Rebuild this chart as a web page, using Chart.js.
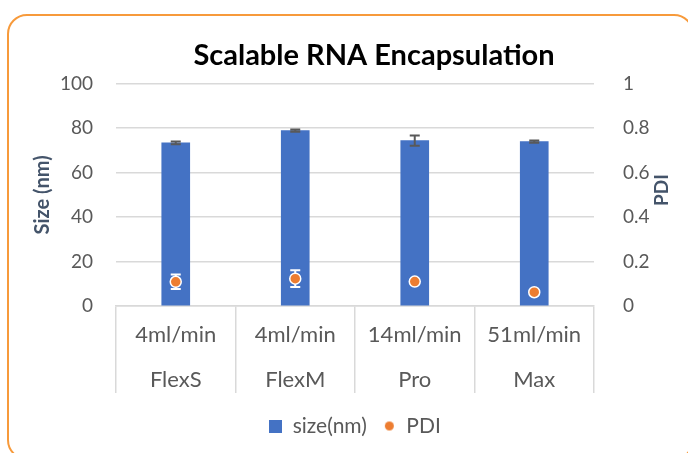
<!DOCTYPE html>
<html>
<head>
<meta charset="utf-8">
<title>Scalable RNA Encapsulation</title>
<script src="https://cdn.jsdelivr.net/npm/chart.js@4.4.1/dist/chart.umd.min.js"></script>
<style>
  body { margin: 0; background: #fff; overflow: hidden; }
  #wrap { position: relative; width: 688px; height: 453px; overflow: hidden; }
  #frame {
    position: absolute; left: 7px; top: 14px; width: 683px; height: 442px;
    border: 2px solid #f79a3b; border-radius: 20px; pointer-events: none;
  }
</style>
</head>
<body>
<div id="wrap">
  <canvas id="chart" width="688" height="453"></canvas>
  <div id="frame"></div>
</div>
<script>
// values
const machines = ['FlexS', 'FlexM', 'Pro', 'Max'];
const flowRates = ['4ml/min', '4ml/min', '14ml/min', '51ml/min'];
const sizeNm = [73.4, 78.9, 74.4, 74.0];
const sizeErr = [0.6, 0.5, 2.3, 0.5];
const pdi = [0.109, 0.123, 0.110, 0.062];
const pdiErr = [0.033, 0.038, 0.008, 0.008];
const sizeTicks = [0, 20, 40, 60, 80, 100];
const pdiTicks = [0, 0.2, 0.4, 0.6, 0.8, 1];

const BLUE = '#4472c4';
const ORANGE = '#ed7d31';
const TICK = '#595959';
const AXIS_TITLE = '#44546a';
const GRID = '#d9d9d9';
const FONT = 'Lato';

// legend markers: square is bigger than the dot, like in the picture
function marker(size, draw) {
    const c = document.createElement('canvas');
    c.width = size;
    c.height = size;
    draw(c.getContext('2d'), size);
    return c;
}
const squareMark = marker(13, (g, s) => { g.fillStyle = BLUE; g.fillRect(0, 0, s, s); });
const dotMark = marker(13, (g, s) => {
    g.fillStyle = ORANGE;
    g.beginPath();
    g.arc(s / 2, s / 2, 4.5, 0, Math.PI * 2);
    g.fill();
});
const legendMarks = [squareMark, dotMark];

function drawErrors(chart, dsIndex, vals, errs, axisId, color) {
    const ctx = chart.ctx;
    const meta = chart.getDatasetMeta(dsIndex);
    const scale = chart.scales[axisId];
    ctx.save();
    ctx.strokeStyle = color;
    ctx.lineWidth = 2;
    meta.data.forEach((el, i) => {
        const x = el.x;
        const top = scale.getPixelForValue(vals[i] + errs[i]);
        const bot = scale.getPixelForValue(vals[i] - errs[i]);
        ctx.beginPath();
        ctx.moveTo(x, top);
        ctx.lineTo(x, bot);
        ctx.moveTo(x - 5, top);
        ctx.lineTo(x + 5, top);
        ctx.moveTo(x - 5, bot);
        ctx.lineTo(x + 5, bot);
        ctx.stroke();
    });
    ctx.restore();
}

const errorBars = {
    id: 'errorBars',
    afterDatasetDraw(chart, args) {
        // bars are drawn first, then the error bars, then the PDI dots on top
        if (args.index !== 0) return;
        drawErrors(chart, 0, sizeNm, sizeErr, 'y', TICK);
        drawErrors(chart, 1, pdi, pdiErr, 'y2', '#ffffff');
    }
};

const extras = {
    id: 'extras',
    afterLayout(chart) {
        // title sits a bit right of centre in the original
        chart.titleBlock.left += 19;
        chart.titleBlock.right += 19;
    },
    afterDraw(chart) {
        // right axis title reads bottom to top
        const ctx = chart.ctx;
        ctx.save();
        ctx.translate(662, 190);
        ctx.rotate(-Math.PI / 2);
        ctx.font = 'bold 19px ' + FONT;
        ctx.fillStyle = AXIS_TITLE;
        ctx.textAlign = 'center';
        ctx.textBaseline = 'middle';
        ctx.fillText('PDI', 0, 0);
        ctx.restore();
    }
};

const ctx = document.getElementById('chart').getContext('2d');
const chart = new Chart(ctx, {
    type: 'bar',
    data: {
        labels: machines.map((m, i) => [flowRates[i], m]),
        datasets: [{
            label: 'size(nm)',
            data: sizeNm,
            backgroundColor: BLUE,
            barThickness: 28,
            yAxisID: 'y',
            order: 2
        }, {
            type: 'line',
            label: 'PDI',
            data: pdi,
            showLine: false,
            pointRadius: 5.5,
            pointBackgroundColor: ORANGE,
            pointBorderColor: '#ffffff',
            pointBorderWidth: 1.5,
            backgroundColor: ORANGE,
            yAxisID: 'y2',
            order: 1
        }]
    },
    options: {
        responsive: false,
        animation: false,
        devicePixelRatio: 1,
        layout: { padding: { left: 27, right: 5, top: 38, bottom: 6.5 } },
        plugins: {
            title: {
                display: true,
                text: 'Scalable RNA Encapsulation',
                color: '#000000',
                font: { family: FONT, size: 29, weight: 'bold' },
                padding: { top: 0, bottom: 11 }
            },
            legend: {
                position: 'bottom',
                labels: {
                    usePointStyle: true,
                    boxWidth: 13,
                    boxHeight: 13,
                    padding: 16,
                    color: TICK,
                    font: { family: FONT, size: 21 },
                    sort: (a, b) => a.datasetIndex - b.datasetIndex,
                    generateLabels(chart) {
                        const items = Chart.defaults.plugins.legend.labels.generateLabels(chart);
                        items.forEach(item => { item.pointStyle = legendMarks[item.datasetIndex]; });
                        return items;
                    }
                }
            },
            tooltip: { enabled: false }
        },
        scales: {
            x: {
                grid: {
                    offset: true,
                    drawOnChartArea: false,
                    tickLength: 87,
                    color: GRID,
                    lineWidth: 1.5
                },
                border: { color: GRID, width: 1.5 },
                ticks: {
                    color: TICK,
                    padding: -80.5,
                    font: { family: FONT, size: 22, lineHeight: 2.05 }
                },
                afterFit(scale) { scale.height = 93.5; }
            },
            y: {
                position: 'left',
                min: 0,
                max: 100,
                afterBuildTicks(scale) { scale.ticks = sizeTicks.map(v => ({ value: v })); },
                grid: { color: GRID, lineWidth: 1.5, drawTicks: false },
                border: { display: false },
                ticks: { color: TICK, padding: 23, font: { family: FONT, size: 19 } },
                title: {
                    display: true,
                    text: 'Size (nm)',
                    color: AXIS_TITLE,
                    font: { family: FONT, size: 20, weight: 'bold' },
                    padding: { top: 4, bottom: 4 }
                },
                afterFit(scale) { scale.width = 116 - 27; }
            },
            y2: {
                position: 'right',
                min: 0,
                max: 1,
                afterBuildTicks(scale) { scale.ticks = pdiTicks.map(v => ({ value: v })); },
                grid: { display: false },
                border: { display: false },
                ticks: {
                    color: TICK,
                    padding: 21,
                    font: { family: FONT, size: 19 },
                    callback: v => String(v)
                },
                afterFit(scale) { scale.width = 688 - 5 - 594; }
            }
        }
    },
    plugins: [errorBars, extras]
});
</script>
</body>
</html>
